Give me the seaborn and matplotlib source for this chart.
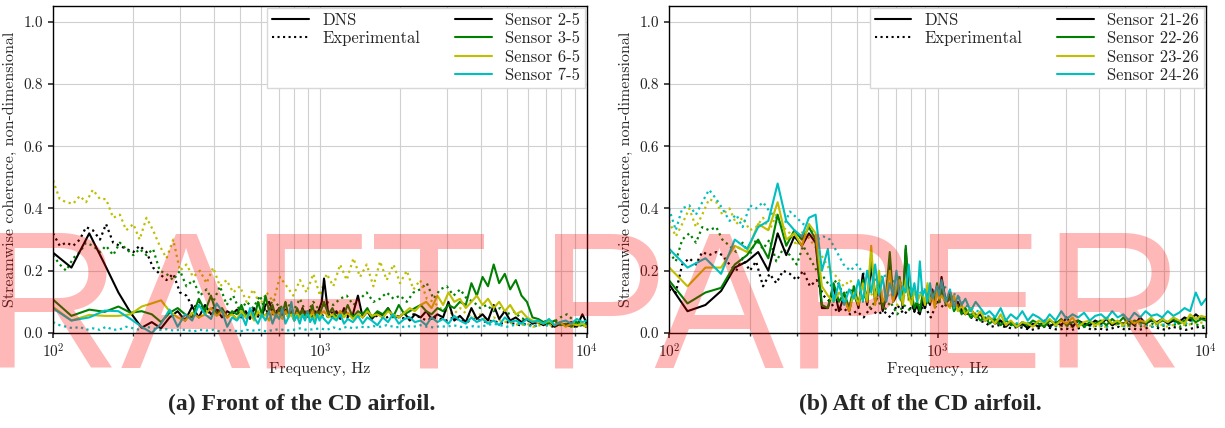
import matplotlib
matplotlib.use("Agg")
import matplotlib.pyplot as plt
from matplotlib.lines import Line2D
import seaborn as sns

# frequency grids (Hz)
freq_dns = [97.7, 117.2, 136.7, 156.3, 175.8, 195.3, 214.8, 234.4, 253.9, 273.4,
            293.0, 312.5, 332.0, 351.6, 371.1, 390.6, 410.2, 429.7, 449.2, 468.8,
            488.3, 507.8, 527.3, 546.9, 566.4, 585.9, 605.5, 625.0, 644.5, 664.1,
            683.6, 703.1, 722.7, 742.2, 761.7, 781.3, 800.8, 820.3, 839.8, 859.4,
            878.9, 898.4, 917.9, 937.5, 957.0, 976.6, 996.1, 1015.6, 1035.2,
            1074, 1113, 1152, 1191, 1230, 1270, 1328, 1387, 1445, 1504,
            1563, 1641, 1719, 1797, 1875, 1973, 2070, 2168, 2266, 2383,
            2500, 2617, 2754, 2891, 3027, 3184, 3340, 3516, 3691, 3867,
            4063, 4258, 4473, 4688, 4922, 5156, 5410, 5684, 5957, 6250,
            6563, 6875, 7207, 7559, 7930, 8320, 8730, 9160, 9609, 10000]

freq_exp = [100, 106, 112, 119, 126, 133, 141, 150, 158, 168,
            178, 188, 200, 211, 224, 237, 251, 266, 282, 299,
            316, 335, 355, 376, 398, 422, 447, 473, 501, 531,
            562, 596, 631, 668, 708, 750, 794, 841, 891, 944,
            1000, 1059, 1122, 1189, 1259, 1334, 1413, 1496, 1585, 1679,
            1778, 1884, 1995, 2113, 2239, 2371, 2512, 2661, 2818, 2985,
            3162, 3350, 3548, 3758, 3981, 4217, 4467, 4732, 5012, 5309,
            5623, 5957, 6310, 6683, 7079, 7499, 7943, 8414, 8913, 9441,
            10000]

# ---- (a) front of the airfoil ----
front_labels = ["Sensor 2-5", "Sensor 3-5", "Sensor 6-5", "Sensor 7-5"]

dns_2_5 = [.265, .21, .32, .22, .13, .065, .017, .035, .015, .05,
           .07, .04, .085, .05, .09, .06, .075, .05, .07, .06,
           .075, .05, .07, .045, .08, .06, .055, .09, .1, .07,
           .06, .08, .05, .075, .055, .065, .04, .07, .05, .08,
           .06, .055, .075, .05, .07, .06, .08, .1, .175,
           .06, .05, .07, .045, .08, .055, .06, .12, .05, .07,
           .045, .065, .05, .08, .055, .05, .065, .04, .06, .05,
           .07, .045, .06, .05, .1, .04, .055, .035, .08, .045,
           .06, .04, .09, .045, .07, .04, .05, .035, .045, .03,
           .035, .025, .04, .02, .03, .025, .035, .02, .06, .03]
dns_3_5 = [.115, .055, .075, .068, .085, .065, .07, .06, .035, .065,
           .08, .06, .05, .11, .07, .12, .06, .08, .05, .07,
           .06, .09, .05, .07, .045, .1, .06, .12, .07, .09,
           .05, .08, .06, .1, .055, .07, .045, .08, .06, .075,
           .05, .07, .06, .09, .05, .07, .06, .08, .1,
           .06, .08, .05, .07, .06, .09, .05, .07, .06, .08,
           .05, .07, .06, .08, .05, .09, .06, .07, .08, .09,
           .07, .06, .08, .07, .09, .08, .1, .09, .16, .12,
           .18, .15, .22, .16, .19, .14, .17, .12, .1, .05,
           .045, .035, .03, .04, .025, .03, .02, .035, .025, .03]
dns_6_5 = [.09, .04, .058, .055, .055, .06, .085, .095, .105, .07,
           .05, .04, .065, .05, .06, .08, .055, .07, .05, .06,
           .045, .07, .05, .065, .04, .07, .05, .06, .04, .07,
           .05, .065, .045, .07, .05, .06, .04, .065, .05, .06,
           .045, .06, .05, .07, .04, .06, .05, .065, .07,
           .05, .06, .045, .07, .05, .065, .045, .06, .05, .07,
           .055, .06, .05, .07, .06, .05, .065, .08, .07, .09,
           .1, .08, .12, .09, .13, .1, .11, .08, .1, .12,
           .09, .11, .08, .1, .07, .09, .06, .07, .05, .04,
           .035, .03, .04, .025, .035, .02, .03, .025, .03, .02]
dns_7_5 = [.085, .04, .05, .072, .07, .045, .02, .0, .03, .075,
           .02, .06, .04, .09, .06, .045, .095, .07, .02, .05,
           .04, .06, .025, .08, .05, .03, .06, .04, .07, .03,
           .06, .045, .08, .03, .05, .1, .04, .055, .03, .06,
           .04, .07, .035, .05, .03, .06, .04, .055, .045,
           .03, .05, .04, .06, .03, .045, .035, .055, .03, .05,
           .04, .025, .05, .035, .06, .03, .045, .05, .035, .04,
           .025, .05, .035, .045, .03, .055, .04, .03, .05, .035,
           .045, .03, .04, .025, .05, .035, .04, .03, .045, .035,
           .04, .03, .045, .025, .035, .04, .03, .045, .035, .04]

exp_2_5 = [.32, .28, .29, .28, .3, .34, .33, .3, .35, .29,
           .28, .27, .26, .28, .26, .21, .19, .17, .19, .13,
           .12, .08, .1, .06, .08, .07, .06, .05, .07, .05,
           .06, .05, .07, .06, .08, .05, .07, .06, .05, .07,
           .06, .05, .07, .06, .05, .06, .05, .07, .05, .06,
           .05, .06, .05, .045, .06, .05, .04, .05, .045, .04,
           .05, .04, .035, .045, .04, .035, .04, .03, .035, .03,
           .025, .03, .02, .03, .025, .02, .03, .025, .02, .025,
           .02]
exp_3_5 = [.25, .22, .2, .24, .26, .29, .28, .26, .28, .25,
           .29, .27, .25, .27, .25, .27, .2, .19, .17, .2,
           .15, .17, .12, .14, .1, .15, .09, .12, .07, .1,
           .08, .12, .06, .11, .08, .1, .07, .11, .06, .1,
           .07, .1, .09, .11, .12, .09, .11, .13, .1, .11,
           .13, .11, .12, .1, .13, .14, .16, .11, .14, .15,
           .12, .14, .11, .1, .08, .09, .07, .08, .06, .07,
           .05, .04, .035, .03, .04, .035, .05, .06, .04, .03,
           .03]
exp_6_5 = [.49, .43, .42, .415, .44, .42, .46, .43, .43, .37,
           .38, .33, .35, .3, .37, .33, .28, .24, .3, .2,
           .22, .18, .2, .16, .21, .15, .17, .13, .15, .1,
           .14, .09, .13, .1, .18, .15, .12, .17, .13, .19,
           .12, .19, .15, .22, .17, .24, .18, .22, .15, .23,
           .17, .22, .16, .2, .14, .17, .11, .1, .08, .07,
           .06, .08, .06, .05, .06, .04, .05, .04, .035, .03,
           .025, .03, .02, .025, .03, .02, .025, .03, .02, .025,
           .02]
exp_7_5 = [.035, .025, .02, .015, .02, .01, .015, .01, .02, .01,
           .012, .02, .015, .01, .02, .015, .01, .012, .008, .01,
           .01, .005, .01, .008, .01, .005, .01, .008, .005, .01,
           .008, .01, .005, .01, .012, .008, .01, .015, .01, .012,
           .015, .01, .018, .012, .02, .015, .02, .018, .022, .02,
           .025, .02, .018, .022, .02, .025, .02, .018, .022, .02,
           .025, .02, .018, .022, .02, .025, .03, .025, .02, .025,
           .03, .025, .02, .03, .025, .035, .03, .025, .03, .025,
           .03]

# ---- (b) aft of the airfoil ----
aft_labels = ["Sensor 21-26", "Sensor 22-26", "Sensor 23-26", "Sensor 24-26"]

dns_21_26 = [.17, .07, .09, .135, .21, .23, .26, .2, .32, .25,
             .31, .28, .32, .29, .08, .08, .15, .07, .12, .07,
             .14, .08, .19, .09, .22, .1, .15, .07, .12, .23,
             .1, .12, .16, .08, .27, .12, .1, .07, .09, .06,
             .1, .08, .12, .09, .14, .1, .15, .12, .18,
             .1, .13, .08, .1, .07, .06, .08, .05, .06, .04,
             .05, .03, .04, .02, .035, .02, .03, .015, .03, .02,
             .04, .02, .035, .025, .05, .02, .04, .03, .025, .04,
             .03, .045, .025, .035, .03, .04, .025, .05, .03, .04,
             .035, .045, .03, .04, .035, .05, .04, .06, .045, .05]
dns_22_26 = [.18, .095, .13, .145, .22, .25, .3, .24, .38, .28,
             .33, .3, .34, .3, .09, .08, .16, .1, .13, .08,
             .15, .09, .17, .1, .25, .12, .17, .08, .13, .26,
             .11, .13, .18, .09, .28, .11, .13, .08, .1, .07,
             .12, .09, .15, .1, .13, .11, .16, .1, .14,
             .09, .12, .07, .09, .06, .08, .05, .06, .04, .05,
             .03, .045, .025, .04, .03, .02, .035, .025, .04, .03,
             .02, .04, .03, .045, .025, .035, .04, .02, .035, .03,
             .04, .025, .045, .03, .05, .025, .04, .035, .03, .045,
             .03, .04, .035, .045, .03, .04, .05, .035, .045, .04]
dns_23_26 = [.22, .15, .21, .21, .28, .26, .35, .33, .42, .3,
             .32, .28, .35, .32, .15, .12, .1, .13, .11, .07,
             .13, .09, .16, .1, .28, .09, .2, .1, .12, .2,
             .1, .15, .17, .09, .17, .12, .09, .14, .1, .12,
             .13, .09, .16, .1, .12, .08, .14, .11, .12,
             .1, .08, .12, .07, .09, .06, .08, .05, .07, .04,
             .05, .03, .06, .025, .04, .02, .035, .03, .02, .04,
             .03, .045, .025, .04, .03, .05, .02, .035, .04, .025,
             .035, .05, .03, .04, .025, .045, .03, .04, .035, .05,
             .03, .045, .035, .05, .04, .03, .06, .045, .055, .05]
dns_24_26 = [.28, .21, .24, .19, .3, .27, .34, .36, .48, .36,
             .33, .31, .37, .38, .2, .27, .1, .16, .09, .14,
             .11, .17, .1, .2, .13, .22, .12, .18, .1, .16,
             .12, .2, .11, .15, .13, .22, .12, .16, .1, .23,
             .12, .14, .1, .16, .11, .13, .15, .12, .17,
             .1, .14, .08, .12, .09, .11, .07, .1, .08, .06,
             .07, .05, .08, .04, .06, .045, .07, .04, .06, .05,
             .035, .06, .04, .07, .045, .06, .05, .065, .04, .055,
             .06, .045, .07, .05, .06, .04, .065, .05, .07, .055,
             .06, .05, .07, .055, .065, .08, .07, .13, .09, .11]

exp_21_26 = [.14, .13, .22, .24, .22, .26, .25, .26, .25, .22,
             .2, .24, .2, .23, .15, .19, .16, .2, .19, .17,
             .2, .15, .17, .12, .1, .07, .08, .06, .07, .05,
             .08, .06, .07, .05, .09, .06, .08, .06, .09, .05,
             .1, .08, .12, .09, .07, .05, .04, .035, .02, .025,
             .02, .015, .02, .015, .01, .015, .02, .015, .01, .015,
             .01, .015, .02, .01, .015, .01, .015, .02, .01, .015,
             .01, .015, .02, .015, .01, .02, .015, .01, .015, .02,
             .015]
exp_22_26 = [.26, .23, .3, .32, .29, .34, .33, .34, .3, .28,
             .26, .29, .25, .3, .27, .3, .23, .27, .25, .22,
             .28, .24, .2, .18, .15, .17, .12, .14, .1, .12,
             .08, .11, .07, .1, .06, .09, .07, .1, .08, .11,
             .09, .12, .1, .08, .07, .06, .05, .045, .04, .035,
             .03, .025, .03, .02, .025, .02, .03, .025, .02, .025,
             .02, .025, .03, .02, .025, .02, .025, .03, .02, .025,
             .02, .025, .03, .02, .025, .03, .02, .025, .03, .025,
             .02]
exp_23_26 = [.36, .31, .35, .4, .34, .38, .43, .42, .38, .4,
             .35, .37, .33, .34, .37, .33, .38, .34, .32, .28,
             .33, .3, .27, .24, .2, .18, .15, .17, .13, .15,
             .12, .14, .1, .13, .09, .12, .1, .13, .09, .11,
             .1, .12, .09, .1, .08, .07, .06, .05, .045, .04,
             .035, .03, .025, .03, .025, .02, .025, .03, .02, .025,
             .02, .025, .03, .02, .025, .02, .03, .025, .02, .025,
             .03, .02, .025, .03, .02, .025, .03, .025, .03, .035,
             .03]
exp_24_26 = [.4, .33, .4, .41, .38, .42, .46, .43, .4, .36,
             .38, .34, .41, .4, .42, .39, .37, .34, .39, .37,
             .35, .34, .3, .31, .3, .26, .22, .2, .22, .19,
             .2, .16, .19, .15, .19, .13, .15, .12, .14, .1,
             .12, .15, .13, .12, .09, .08, .07, .06, .05, .045,
             .04, .035, .03, .035, .03, .025, .03, .02, .025, .03,
             .025, .03, .02, .025, .03, .02, .025, .03, .02, .025,
             .03, .025, .02, .03, .025, .03, .035, .03, .04, .05,
             .04]

# classic matplotlib k / g / y / c
colors = ["#000000", "#008000", "#bfbf00", "#00bfbf"]
captions = ["(a) Front of the CD airfoil.", "(b) Aft of the CD airfoil."]

sns.set_theme(style="whitegrid", color_codes=False)
plt.rcParams.update({
    "font.family": ["cmr10", "DejaVu Serif"],
    "mathtext.fontset": "cm",
    "axes.formatter.use_mathtext": True,
    "font.size": 11.5,
    "axes.labelsize": 11.5,
    "axes.edgecolor": "black",
    "axes.linewidth": 1.0,
    "grid.color": "#d0d0d0",
    "grid.linewidth": 0.8,
    "xtick.bottom": True,
    "ytick.left": True,
    "xtick.direction": "out",
    "ytick.direction": "out",
    "xtick.color": "#333333",
    "ytick.color": "#333333",
    "xtick.labelcolor": "#222222",
    "ytick.labelcolor": "#222222",
    "xtick.major.size": 3.5,
    "ytick.major.size": 3.5,
    "xtick.minor.size": 2,
})

fig = plt.figure(figsize=(12.25, 4.28), dpi=100)
ax_a = fig.add_axes([53 / 1225, 95 / 428, 534 / 1225, 327 / 428])
ax_b = fig.add_axes([669 / 1225, 95 / 428, 537 / 1225, 327 / 428])

panels = [
    (ax_a, [dns_2_5, dns_3_5, dns_6_5, dns_7_5], [exp_2_5, exp_3_5, exp_6_5, exp_7_5], front_labels),
    (ax_b, [dns_21_26, dns_22_26, dns_23_26, dns_24_26], [exp_21_26, exp_22_26, exp_23_26, exp_24_26], aft_labels),
]

for ax, dns, exp, labels in panels:
    for vals, c in zip(exp, colors):
        sns.lineplot(x=freq_exp, y=vals, ax=ax, color=c, linestyle=":", linewidth=1.6)
    for vals, c in zip(dns, colors):
        sns.lineplot(x=freq_dns, y=vals, ax=ax, color=c, linewidth=1.5)
    ax.set_xscale("log")
    ax.set_xlim(100, 10000)
    ax.set_ylim(0, 1.05)
    ax.set_yticks([0.0, 0.2, 0.4, 0.6, 0.8, 1.0])
    ax.set_yticklabels(["0.0", "0.2", "0.4", "0.6", "0.8", "1.0"])
    ax.grid(True, which="both", axis="x")
    ax.grid(True, which="major", axis="y")
    ax.set_xlabel("Frequency, Hz", labelpad=1)
    ax.set_ylabel("Streamwise coherence, non-dimensional", labelpad=5)
    for s in ax.spines.values():
        s.set_color("black")

    handles = [Line2D([], [], color="k", lw=1.5),
               Line2D([], [], color="k", lw=1.5, ls=":"),
               Line2D([], [], alpha=0), Line2D([], [], alpha=0)]
    handles += [Line2D([], [], color=c, lw=1.5) for c in colors]
    names = ["DNS", "Experimental", "", ""] + labels
    ax.legend(handles, names, ncol=2, loc="upper right", frameon=True,
              fancybox=False, edgecolor="#d8d8d8", framealpha=1, fontsize=12,
              borderaxespad=0.1, handlelength=2.2, handletextpad=0.8,
              columnspacing=2.1, labelspacing=0.18, borderpad=0.3)

fig.text(302 / 1225, 0.055, captions[0], ha="center", va="center", fontsize=17,
         weight="bold", family="Liberation Serif")
fig.text(920 / 1225, 0.055, captions[1], ha="center", va="center", fontsize=17,
         weight="bold", family="Liberation Serif")

# watermark
fig.text(-160 / 1225, 61 / 428, "DRAFT PAPER", fontsize=140, color="red", alpha=0.28,
         family="Liberation Sans", ha="left", va="baseline", zorder=100)

fig.savefig("out.png", dpi=100)
